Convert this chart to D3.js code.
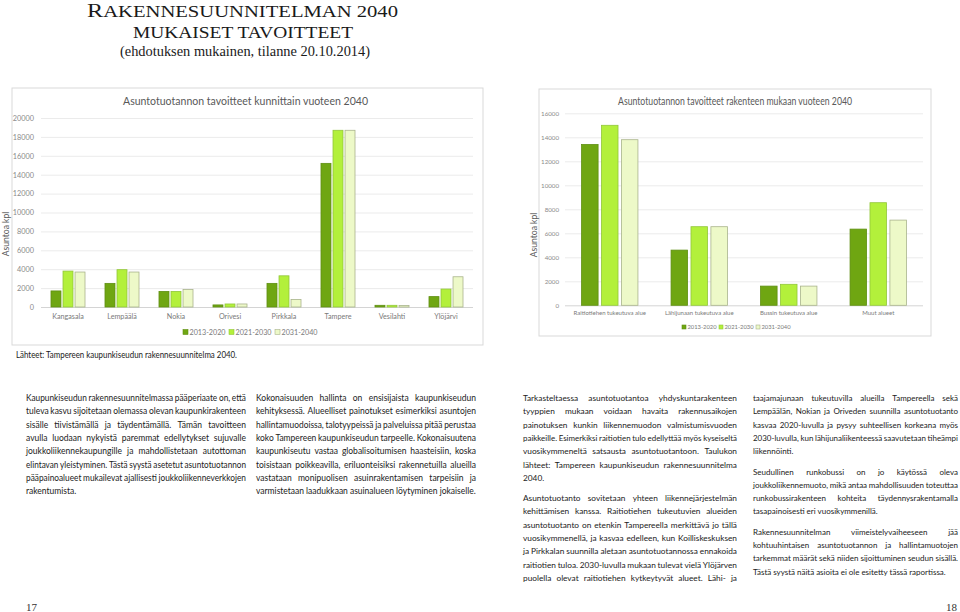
<!DOCTYPE html>
<html><head><meta charset="utf-8">
<script src="https://cdn.jsdelivr.net/npm/d3@7"></script>
<style>
html,body{margin:0;padding:0;background:#fff;}
svg{display:block;}
</style></head>
<body>
<svg id="page" width="960" height="612"></svg>
<script>
// ---------- DATA ----------
const periods = ["2013-2020", "2021-2030", "2031-2040"];
const municipalities = ["Kangasala", "Lempäälä", "Nokia", "Orivesi", "Pirkkala", "Tampere", "Vesilahti", "Ylöjärvi"];
const muni2013_2020 = [1700, 2500, 1650, 220, 2500, 15200, 180, 1100];
const muni2021_2030 = [3800, 3950, 1650, 320, 3300, 18700, 180, 1900];
const muni2031_2040 = [3700, 3700, 1850, 320, 800, 18700, 150, 3200];
const muniTicks = [0, 2000, 4000, 6000, 8000, 10000, 12000, 14000, 16000, 18000, 20000];

const zones = ["Raitiotiehen tukeutuva alue", "Lähijunaan tukeutuva alue", "Bussin tukeutuva alue", "Muut alueet"];
const zone2013_2020 = [13400, 4600, 1600, 6350];
const zone2021_2030 = [15000, 6550, 1750, 8550];
const zone2031_2040 = [13800, 6550, 1600, 7100];
const zoneTicks = [0, 2000, 4000, 6000, 8000, 10000, 12000, 14000, 16000];

const titleLine1a = "R";
const titleLine1b = "AKENNESUUNNITELMAN 2040";
const titleLine2 = "MUKAISET TAVOITTEET";
const titleLine3 = "(ehdotuksen mukainen, tilanne 20.10.2014)";
const chartTitleLeft = "Asuntotuotannon tavoitteet kunnittain vuoteen 2040";
const chartTitleRight = "Asuntotuotannon tavoitteet rakenteen mukaan vuoteen 2040";
const axisTitle = "Asuntoa kpl";
const sourceNote = "Lähteet: Tampereen kaupunkiseudun rakennesuunnitelma 2040.";
const pageNumbers = ["17", "18"];

const col1 = [[
  "Kaupunkiseudun rakennesuunnitelmassa pääperiaate on, että",
  "tuleva kasvu sijoitetaan olemassa olevan kaupunkirakenteen",
  "sisälle tiivistämällä ja täydentämällä. Tämän tavoitteen",
  "avulla luodaan nykyistä paremmat edellytykset sujuvalle",
  "joukkoliikennekaupungille ja mahdollistetaan autottoman",
  "elintavan yleistyminen. Tästä syystä asetetut asuntotuotannon",
  "pääpainoalueet mukailevat ajallisesti joukkoliikenneverkkojen",
  "rakentumista."
]];
const col2 = [[
  "Kokonaisuuden hallinta on ensisijaista kaupunkiseudun",
  "kehityksessä. Alueelliset painotukset esimerkiksi asuntojen",
  "hallintamuodoissa, talotyypeissä ja palveluissa pitää perustaa",
  "koko Tampereen kaupunkiseudun tarpeelle. Kokonaisuutena",
  "kaupunkiseutu vastaa globalisoitumisen haasteisiin, koska",
  "toisistaan poikkeavilla, eriluonteisiksi rakennetuilla alueilla",
  "vastataan monipuolisen asuinrakentamisen tarpeisiin ja",
  "varmistetaan laadukkaan asuinalueen löytyminen jokaiselle."
]];
const col3 = [[
  "Tarkasteltaessa asuntotuotantoa yhdyskuntarakenteen",
  "tyyppien mukaan voidaan havaita rakennusaikojen",
  "painotuksen kunkin liikennemuodon valmistumisvuoden",
  "paikkeille. Esimerkiksi raitiotien tulo edellyttää myös kyseiseltä",
  "vuosikymmeneltä satsausta asuntotuotantoon. Taulukon",
  "lähteet: Tampereen kaupunkiseudun rakennesuunnitelma",
  "2040."
], [
  "Asuntotuotanto sovitetaan yhteen liikennejärjestelmän",
  "kehittämisen kanssa. Raitiotiehen tukeutuvien alueiden",
  "asuntotuotanto on etenkin Tampereella merkittävä jo tällä",
  "vuosikymmenellä, ja kasvaa edelleen, kun Koilliskeskuksen",
  "ja Pirkkalan suunnilla aletaan asuntotuotannossa ennakoida",
  "raitiotien tuloa. 2030-luvulla mukaan tulevat vielä Ylöjärven",
  "puolella olevat raitiotiehen kytkeytyvät alueet. Lähi- ja|"
]];
const col4 = [[
  "taajamajunaan tukeutuvilla alueilla Tampereella sekä",
  "Lempäälän, Nokian ja Oriveden suunnilla asuntotuotanto",
  "kasvaa 2020-luvulla ja pysyy suhteellisen korkeana myös",
  "2030-luvulla, kun lähijunaliikenteessä saavutetaan tiheämpi",
  "liikennöinti."
], [
  "Seudullinen runkobussi on jo käytössä oleva",
  "joukkoliikennemuoto, mikä antaa mahdollisuuden toteuttaa",
  "runkobussirakenteen kohteita täydennysrakentamalla",
  "tasapainoisesti eri vuosikymmenillä."
], [
  "Rakennesuunnitelman viimeistelyvaiheeseen jää",
  "kohtuuhintaisen asuntotuotannon ja hallintamuotojen",
  "tarkemmat määrät sekä niiden sijoittuminen seudun sisällä.",
  "Tästä syystä näitä asioita ei ole esitetty tässä raportissa."
]];

// ---------- STYLE ----------
const fills = ["#6fa612", "#b3f03b", "#edf9c8"];
const strokes = ["#5f8f12", "#92c63a", "#a9b38c"];
const sansFont = "Lato, 'Open Sans', sans-serif";
const serifFont = "'Liberation Serif', 'DejaVu Serif', serif";

const svg = d3.select("#page");
svg.append("rect").attr("width", 960).attr("height", 612).attr("fill", "#fff");

// ---------- PAGE TITLE ----------
const t1 = svg.append("text").attr("x", 87).attr("y", 16.5)
  .attr("font-family", serifFont).attr("fill", "#1a1a1a")
  .attr("textLength", 311).attr("lengthAdjust", "spacingAndGlyphs");
t1.append("tspan").attr("font-size", 19.5).text(titleLine1a);
t1.append("tspan").attr("font-size", 16.6).text(titleLine1b);
svg.append("text").attr("x", 133).attr("y", 37.8)
  .attr("font-family", serifFont).attr("font-size", 16.6).attr("fill", "#1a1a1a")
  .attr("textLength", 220).attr("lengthAdjust", "spacingAndGlyphs").text(titleLine2);
svg.append("text").attr("x", 120).attr("y", 55.5)
  .attr("font-family", serifFont).attr("font-size", 14).attr("fill", "#1a1a1a")
  .attr("textLength", 250).attr("lengthAdjust", "spacingAndGlyphs").text(titleLine3);

// ---------- CHART HELPER ----------
function drawChart(cfg) {
  const g = svg.append("g");
  g.append("rect").attr("x", cfg.frame[0]).attr("y", cfg.frame[1])
    .attr("width", cfg.frame[2] - cfg.frame[0]).attr("height", cfg.frame[3] - cfg.frame[1])
    .attr("fill", "#fff").attr("stroke", "#d9d9d9").attr("stroke-width", 1);

  const x0 = d3.scaleBand().domain(cfg.categories).range([cfg.plot[0], cfg.plot[2]]).padding(0);
  const gw = x0.bandwidth() * 0.63;
  const x1 = d3.scaleBand().domain(periods)
    .range([(x0.bandwidth() - gw) / 2, (x0.bandwidth() + gw) / 2]).paddingInner(0.17).paddingOuter(0);
  const y = d3.scaleLinear().domain([0, cfg.max]).range([cfg.plot[3], cfg.plot[1]]);

  const grid = g.append("g").attr("transform", `translate(${cfg.plot[0]},0)`)
    .call(d3.axisLeft(y).tickValues(cfg.ticks).tickSize(-(cfg.plot[2] - cfg.plot[0])).tickFormat(""));
  grid.select(".domain").remove();
  grid.selectAll(".tick line").attr("stroke", d => d === 0 ? "#d4d4d4" : "#ebebeb").attr("stroke-width", 1);

  const yl = g.append("g").attr("transform", `translate(${cfg.plot[0]},0)`)
    .call(d3.axisLeft(y).tickValues(cfg.ticks).tickSize(0).tickPadding(cfg.tickPad).tickFormat(d3.format("d")));
  yl.select(".domain").remove();
  yl.selectAll("text").attr("font-family", sansFont).attr("font-size", cfg.tickSize).attr("fill", "#8a8a8a");

  const series = cfg.series.map((vals, si) => ({ key: periods[si], vals }));
  series.forEach((s, si) => {
    g.append("g").selectAll("rect").data(cfg.categories.map((c, i) => ({ c, v: s.vals[i] })))
      .join("rect")
      .attr("x", d => x0(d.c) + x1(s.key))
      .attr("y", d => y(d.v))
      .attr("width", x1.bandwidth())
      .attr("height", d => y(0) - y(d.v))
      .attr("fill", fills[si]).attr("stroke", strokes[si]).attr("stroke-width", 0.8);
  });

  const xa = g.append("g").attr("transform", `translate(0,${cfg.xLabelY})`)
    .call(d3.axisBottom(x0).tickSize(0).tickPadding(0));
  xa.select(".domain").remove();
  xa.selectAll("text").attr("font-family", sansFont).attr("font-size", cfg.xLabelSize).attr("fill", "#7a7a7a").attr("dy", "0.32em");

  g.append("text").attr("x", cfg.titleX).attr("y", cfg.titleY)
    .attr("font-family", sansFont).attr("font-size", 10.5).attr("fill", "#595959")
    .attr("textLength", cfg.titleW).attr("lengthAdjust", "spacingAndGlyphs").text(cfg.title);

  g.append("text").attr("transform", `translate(${cfg.axisTitleX},${cfg.axisTitleY}) rotate(-90)`)
    .attr("text-anchor", "middle").attr("font-family", sansFont).attr("font-size", 8.6)
    .attr("fill", "#595959").text(axisTitle);

  const lg = g.append("g");
  periods.forEach((p, i) => {
    const lx = cfg.legendX + i * cfg.legendStep;
    lg.append("rect").attr("x", lx).attr("y", cfg.legendY - cfg.legendSq / 2)
      .attr("width", cfg.legendSq).attr("height", cfg.legendSq)
      .attr("fill", fills[i]).attr("stroke", strokes[i]).attr("stroke-width", 0.6);
    lg.append("text").attr("x", lx + cfg.legendSq + 1.5).attr("y", cfg.legendY).attr("dy", "0.35em")
      .attr("font-family", sansFont).attr("font-size", cfg.legendSize).attr("fill", "#7a7a7a").text(p);
  });
}

drawChart({
  frame: [12, 88, 483, 345], plot: [41, 118, 473, 307],
  categories: municipalities, series: [muni2013_2020, muni2021_2030, muni2031_2040],
  max: 20000, ticks: muniTicks, tickPad: 7, tickSize: 7.3,
  xLabelY: 317, xLabelSize: 7.2,
  title: chartTitleLeft, titleX: 123, titleY: 104.5, titleW: 245,
  axisTitleX: 8.5, axisTitleY: 234,
  legendX: 183, legendStep: 46, legendY: 332, legendSq: 5, legendSize: 7.2
});
drawChart({
  frame: [539, 89, 931, 336], plot: [565, 113.3, 923, 305.3],
  categories: zones, series: [zone2013_2020, zone2021_2030, zone2031_2040],
  max: 16000, ticks: zoneTicks, tickPad: 6, tickSize: 6.2,
  xLabelY: 313, xLabelSize: 6,
  title: chartTitleRight, titleX: 618, titleY: 104.5, titleW: 234,
  axisTitleX: 536.5, axisTitleY: 235,
  legendX: 682, legendStep: 37, legendY: 327, legendSq: 4, legendSize: 5.8
});

svg.append("text").attr("x", 16).attr("y", 358).attr("font-family", sansFont).attr("font-size", 8.8)
  .attr("fill", "#1a1a1a").attr("textLength", 221).attr("lengthAdjust", "spacingAndGlyphs").text(sourceNote);

// ---------- BODY TEXT (justified) ----------
const lineH = 13.3, paraGap = 7;
function drawColumn(paras, x0, W, yStart, size) {
  const g = svg.append("g").attr("font-family", sansFont).attr("font-size", size).attr("fill", "#222");
  let yy = yStart;
  const meas = g.append("text").attr("visibility", "hidden");
  paras.forEach(lines => {
    lines.forEach((raw, li) => {
      const forceJust = raw.endsWith("|");
      const line = raw.replace("|", "");
      const justify = forceJust || li < lines.length - 1;
      const words = line.split(" ");
      const widths = words.map(w => { meas.text(w); return meas.node().getComputedTextLength(); });
      const sp = size * 0.24;
      const sum = d3.sum(widths);
      let gap = sp, scale = 1;
      if (justify && words.length > 1) gap = (W - sum) / (words.length - 1);
      const minGap = size * 0.2;
      if (words.length > 1 && gap < minGap) { gap = minGap; scale = (W - gap * (words.length - 1)) / sum; }
      if (!justify && sum + sp * (words.length - 1) > W) { gap = minGap; scale = Math.min(1, (W - gap * (words.length - 1)) / sum); }
      let cx = x0;
      words.forEach((w, i) => {
        const t = g.append("text").attr("x", cx).attr("y", yy).text(w);
        if (scale < 1) t.attr("textLength", widths[i] * scale).attr("lengthAdjust", "spacingAndGlyphs");
        cx += widths[i] * scale + gap;
      });
      yy += lineH;
    });
    yy += paraGap;
  });
  meas.remove();
}
drawColumn(col1, 26, 220, 401, 8.5);
drawColumn(col2, 256, 220, 401, 8.5);
drawColumn(col3, 523, 214, 401, 8.3);
drawColumn(col4, 753, 205, 401, 8.0);

svg.append("text").attr("x", 26).attr("y", 611).attr("font-family", serifFont).attr("font-size", 11)
  .attr("fill", "#333").text(pageNumbers[0]);
svg.append("text").attr("x", 957).attr("y", 611).attr("text-anchor", "end").attr("font-family", serifFont)
  .attr("font-size", 11).attr("fill", "#333").text(pageNumbers[1]);
</script>
</body></html>
